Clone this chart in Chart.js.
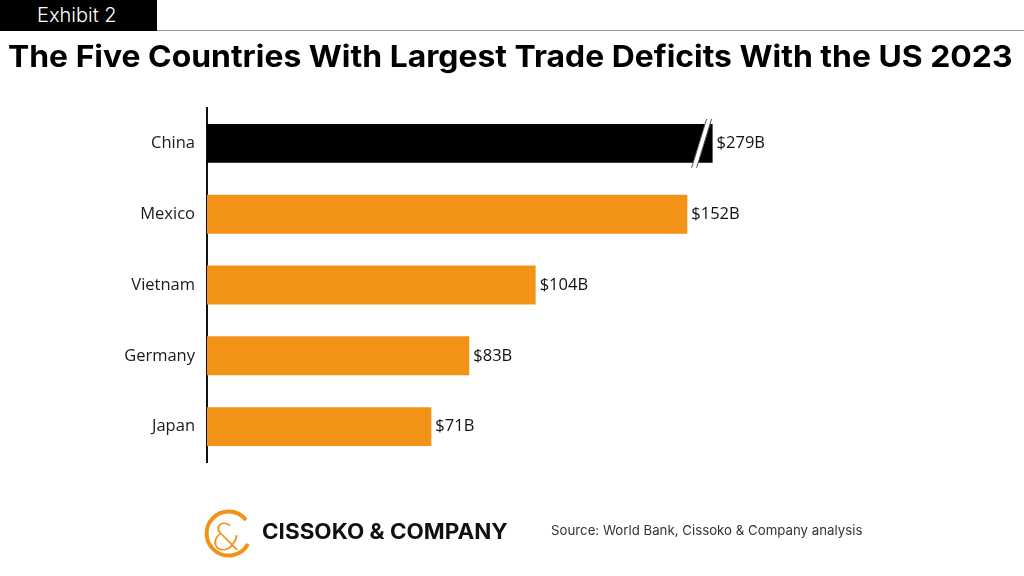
<!DOCTYPE html>
<html>
<head>
<meta charset="utf-8">
<script src="https://cdn.jsdelivr.net/npm/chart.js@4.4.1/dist/chart.umd.min.js"></script>
<style>
  html, body { margin: 0; padding: 0; background: #fff; }
  #page { position: relative; width: 1024px; height: 576px; overflow: hidden; font-family: "Inter", "Noto Sans", sans-serif; }
  #chart { position: absolute; left: 0; top: 0; }
  .exhibit { position: absolute; left: 0; top: 0; width: 157px; height: 31px; background: #000; color: #fff;
    font-size: 20px; line-height: 31px; padding-left: 37px; box-sizing: border-box; font-weight: 300; }
  .rule { position: absolute; left: 157px; top: 30px; width: 867px; height: 1px; background: #999; }
  .fit { position: absolute; white-space: nowrap; transform-origin: left top; }
  .title { left: 8px; top: 38px; font-size: 30px; font-weight: 700; color: #000; }
  .brand { left: 262px; top: 519px; font-size: 21px; font-weight: 700; color: #111; }
  .source { left: 551px; top: 522px; font-size: 13px; color: #333; }
  .logo { position: absolute; left: 198px; top: 508px; }
</style>
</head>
<body>
<div id="page">
  <canvas id="chart" width="1024" height="576"></canvas>
  <div class="exhibit">Exhibit 2</div>
  <div class="rule"></div>
  <div class="fit title" data-w="1004">The Five Countries With Largest Trade Deficits With the US 2023</div>
  <svg class="logo" width="56" height="52" viewBox="0 0 56 52">
    <path d="M 48 12 A 22 22 0 1 0 50 36" fill="none" stroke="#F29318" stroke-width="4"/>
    <text x="13" y="42" font-family="DejaVu Sans" font-weight="300" font-size="38" fill="#F29318">&amp;</text>
  </svg>
  <div class="fit brand" data-w="246">CISSOKO &amp; COMPANY</div>
  <div class="fit source" data-w="311">Source: World Bank, Cissoko &amp; Company analysis</div>
</div>
<script>
var countries = ["China", "Mexico", "Vietnam", "Germany", "Japan"];
var deficits = [279, 152, 104, 83, 71];   // $B
var breakAt = 160;                        // China bar is cut off here
var orange = "#F29318";

// stretch the header / footer texts to the widths in the original
document.querySelectorAll(".fit").forEach(function (el) {
  el.style.transform = "scaleX(" + (el.dataset.w / el.scrollWidth) + ")";
});

var shown = deficits.map(function (v) { return Math.min(v, breakAt); });
var colors = deficits.map(function (v) { return v > breakAt ? "#000" : orange; });

var labelsPlugin = {
  id: "valueLabels",
  afterDatasetsDraw: function (chart) {
    var ctx = chart.ctx;
    var meta = chart.getDatasetMeta(0);
    ctx.save();
    meta.data.forEach(function (bar, i) {
      // axis break marks on truncated bars
      if (deficits[i] > breakAt) {
        var top = bar.y - bar.height / 2 - 5;
        var bot = bar.y + bar.height / 2 + 5;
        var x0 = bar.x - 21, x1 = bar.x - 6;
        ctx.beginPath();
        ctx.moveTo(x0, bot); ctx.lineTo(x1, top);
        ctx.lineTo(x1 + 5, top); ctx.lineTo(x0 + 5, bot);
        ctx.closePath();
        ctx.fillStyle = "#fff";
        ctx.fill();
        ctx.strokeStyle = "#555";
        ctx.lineWidth = 1;
        ctx.beginPath();
        ctx.moveTo(x0, bot); ctx.lineTo(x1, top);
        ctx.moveTo(x0 + 5, bot); ctx.lineTo(x1 + 5, top);
        ctx.stroke();
      }
      ctx.fillStyle = "#111";
      ctx.font = "16.5px 'Open Sans'";
      ctx.textAlign = "left";
      ctx.textBaseline = "middle";
      ctx.fillText("$" + deficits[i] + "B", bar.x + 4, bar.y);
    });
    ctx.restore();
  }
};

new Chart("chart", {
  type: "bar",
  data: {
    labels: countries,
    datasets: [{
      data: shown,
      backgroundColor: colors,
      barPercentage: 0.55,
      categoryPercentage: 1
    }]
  },
  options: {
    indexAxis: "y",
    responsive: false,
    animation: false,
    layout: { padding: { top: 108, bottom: 114, right: 27, left: 0 } },
    plugins: {
      legend: { display: false },
      tooltip: { enabled: false }
    },
    scales: {
      x: { display: false, min: 0, max: 250 },
      y: {
        grid: { display: false, drawTicks: false },
        border: { color: "#111", width: 2 },
        ticks: { color: "#1a1a1a", padding: 12, font: { family: "Open Sans", size: 16.5 } },
        afterFit: function (scale) { scale.width = 207; }
      }
    }
  },
  plugins: [labelsPlugin]
});
</script>
</body>
</html>
